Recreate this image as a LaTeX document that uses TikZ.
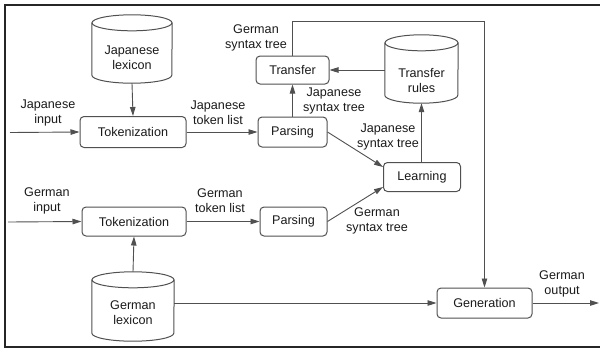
\documentclass[tikz,border=0pt]{standalone}
\usepackage{fontspec}
\setmainfont{Liberation Sans}
\usetikzlibrary{arrows.meta}
\definecolor{linegray}{HTML}{505050}
\definecolor{txt}{HTML}{1A1A1A}
\begin{document}
\begin{tikzpicture}[x=1pt,y=-1pt,
  font=\fontsize{12.6}{15}\selectfont, text=txt,
  box/.style={draw=linegray, line width=1pt, rounded corners=4pt, align=center, inner sep=0pt},
  lbl/.style={align=center, inner sep=0pt},
  cylbody/.style={inner sep=0pt, draw=none},
  cyl/.style={draw=linegray, line width=1pt},
  conn/.style={draw=linegray, line width=0.9pt, -{Triangle[length=9pt,width=5.5pt]}},
  plain/.style={draw=linegray, line width=0.9pt},
  frame/.style={draw=black!85, line width=1.6pt}
]
\useasboundingbox (0,0) rectangle (600,349);
\draw[frame] (600,5) -- (5,5) -- (5,347) -- (600,347);

% boxes
\node[box, minimum width=106pt, minimum height=31pt] (jtok) at (133,132) {Tokenization};
\node[box, minimum width=69pt, minimum height=30pt] (jparse) at (292.5,132) {Parsing};
\node[box, minimum width=73pt, minimum height=28pt] (transfer) at (292.5,70) {Transfer};
\node[box, minimum width=77pt, minimum height=29pt] (learn) at (422,177) {Learning};
\node[box, minimum width=104pt, minimum height=29pt] (gtok) at (134,221.5) {Tokenization};
\node[box, minimum width=67pt, minimum height=29pt] (gparse) at (293.5,221.5) {Parsing};
\node[box, minimum width=95pt, minimum height=30pt] (gen) at (484.5,303) {Generation};

% cylinders
\node[cylbody, minimum width=80pt, minimum height=68pt] (jlex) at (132,49) {};
\node[cylbody, minimum width=82pt, minimum height=69pt] (glex) at (133,306.5) {};
\node[cylbody, minimum width=73pt, minimum height=68pt] (trules) at (421.5,69) {};
\foreach \n/\rx in {jlex/40, glex/41, trules/36.5}{
  \draw[cyl] ([yshift=-8pt]\n.north) ellipse [x radius=\rx pt, y radius=8pt];
  \draw[cyl] ([yshift=-8pt]\n.north west) -- ([yshift=8pt]\n.south west)
    arc[start angle=180, end angle=360, x radius=\rx pt, y radius=8pt]
    -- ([yshift=-8pt]\n.north east);
}
\node[lbl] (jlext) at (132,58) {Japanese\\lexicon};
\node[lbl] (glext) at (133,313) {German\\lexicon};
\node[lbl] (trulest) at (421.5,80) {Transfer\\rules};

% free ends
\coordinate (jin) at (10,132.5);
\coordinate (gin) at (8,222);
\coordinate (gout) at (599,303);
\coordinate (top) at (0,21);

% connectors
\draw[conn] (jin) -- (jtok.west);
\draw[conn] (jlex.south) -- (jtok.north);
\draw[conn] (jtok.east) -- (jparse.west);
\draw[conn] (jparse.north) -- (transfer.south);
\draw[conn] (trules.west |- transfer.east) -- (transfer.east);
\draw[conn] (learn.north -| trules.south) -- (trules.south);
\draw[conn] (jparse.east) -- ([yshift=10pt]learn.west);
\draw[conn] (gparse.east) -- ([yshift=-10pt]learn.west);
\draw[conn] (gin) -- (gtok.west);
\draw[conn] (glex.north) -- (gtok.south);
\draw[conn] (gtok.east) -- (gparse.west);
\draw[conn] (glex.east |- gen.west) -- (gen.west);
\draw[conn] (gen.east) -- (gout);
\draw[conn] (transfer.north) |- (top -| gen.north) -- (gen.north);

% labels
\node[lbl] (l1) at (48,113) {Japanese\\input};
\node[lbl] (l2) at (218,113) {Japanese\\token list};
\node[lbl] (l3) at (256,38) {German\\syntax tree};
\node[lbl] (l4) at (334,101) {Japanese\\syntax tree};
\node[lbl] (l5) at (388,137) {Japanese\\syntax tree};
\node[lbl] (l6) at (47,201) {German\\input};
\node[lbl] (l7) at (220,201) {German\\token list};
\node[lbl] (l8) at (377,221) {German\\syntax tree};
\node[lbl] (l9) at (562,284) {German\\output};
\end{tikzpicture}
\end{document}
